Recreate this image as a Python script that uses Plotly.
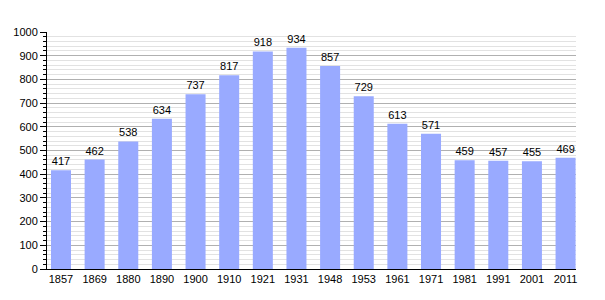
import plotly.graph_objects as go

years = ["1857", "1869", "1880", "1890", "1900", "1910", "1921", "1931",
         "1948", "1953", "1961", "1971", "1981", "1991", "2001", "2011"]
population = [417, 462, 538, 634, 737, 817, 918, 934, 857, 729, 613, 571, 459, 457, 455, 469]
y_ticks = list(range(0, 1001, 100))

xpos = list(range(len(years)))

fig = go.Figure()
fig.add_trace(go.Bar(
    x=xpos, y=population, width=0.595,
    marker=dict(color="#99AAFF", line=dict(width=0)),
    text=[str(v) for v in population], textposition="outside",
    textfont=dict(family="Liberation Sans, Arial, sans-serif", size=11, color="black"),
    cliponaxis=False,
))
fig.update_layout(
    width=605, height=300,
    margin=dict(l=47, r=29, t=32, b=31),
    plot_bgcolor="white", paper_bgcolor="white",
    showlegend=False,
    font=dict(family="Liberation Sans, Arial, sans-serif", size=11, color="black"),
    uniformtext=dict(mode=False),
)
fig.update_xaxes(
    range=[-0.416, 15.31], tickmode="array", tickvals=xpos, ticktext=years,
    showgrid=False, showline=True, linecolor="black", linewidth=1,
    ticks="", zeroline=False, tickfont=dict(size=11),
)
fig.update_yaxes(
    range=[0, 1000], tickmode="array", tickvals=y_ticks,
    showgrid=True, gridcolor="#b0b0b0", gridwidth=1,
    showline=True, linecolor="black", linewidth=1,
    ticks="outside", ticklen=6, tickcolor="black",
    zeroline=False, tickfont=dict(size=11),
    minor=dict(dtick=20, showgrid=True, gridcolor="#e2e2e2", gridwidth=1,
               ticks="outside", ticklen=3, tickcolor="black"),
)
fig.write_html("out.html")
